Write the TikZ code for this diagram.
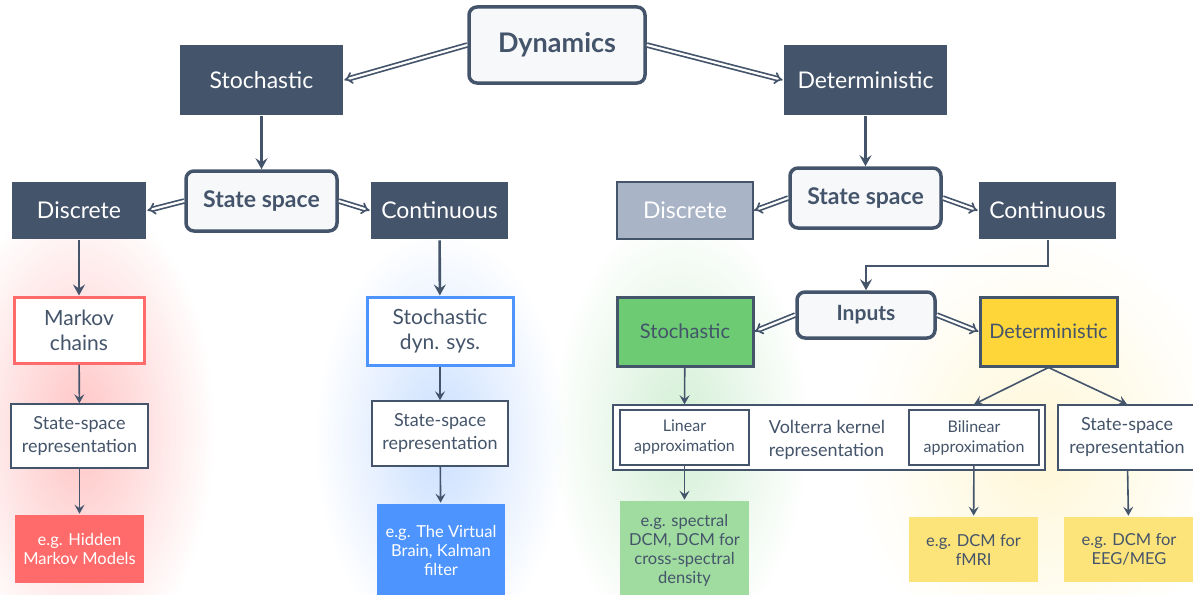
\documentclass[tikz,border=0pt]{standalone}
\usepackage{fontspec}
\setmainfont{Lato}
\usetikzlibrary{arrows.meta,fadings}
\definecolor{slate}{HTML}{44546A}
\definecolor{greyblue}{HTML}{A9B4C6}
\definecolor{paper}{HTML}{F7F8FA}
\definecolor{redbox}{HTML}{FF6B6B}
\definecolor{bluebox}{HTML}{4D94FF}
\definecolor{greenbox}{HTML}{6CCB73}
\definecolor{lightgreen}{HTML}{A0DCA0}
\definecolor{yellowbox}{HTML}{FFD63A}
\definecolor{lightyellow}{HTML}{FDE47A}
\tikzfading[name=glowfade, inner color=transparent!0, outer color=transparent!100]

\begin{document}
\begin{tikzpicture}[x=1pt,y=-1pt,->,>={Stealth[length=11pt,width=12pt,inset=4pt]},draw=slate,line width=2.6pt]
    \tikzstyle{dark}=[rectangle,fill=slate,text=white,font=\fontsize{23}{27}\selectfont,minimum width=137,minimum height=57]
    \tikzstyle{soft}=[rectangle,rounded corners=8pt,draw=slate,line width=3.5pt,fill=paper,text=slate,font=\bfseries\fontsize{23}{27}\selectfont]
    \tikzstyle{ring}=[rectangle,line width=3pt,fill=white,text=slate,align=center,font=\fontsize{21}{25}\selectfont]
    \tikzstyle{plain}=[rectangle,draw=slate,line width=1.4pt,fill=white,text=slate,align=center,font=\fontsize{18}{23}\selectfont]
    \tikzstyle{small}=[plain,font=\fontsize{16}{20}\selectfont,minimum width=129,minimum height=55]
    \tikzstyle{example}=[rectangle,align=center,font=\fontsize{16.5}{19}\selectfont,minimum width=129]
    \tikzstyle{input kind}=[dark,text=slate,draw=slate,line width=3pt,font=\fontsize{20}{24}\selectfont,minimum height=69]
    \tikzstyle{dbl}=[double=white,double distance=2.2pt,line width=1.7pt,-{Implies}]
    \tikzstyle{thin}=[line width=1.6pt,>={Stealth[length=9pt,width=10pt,inset=3.5pt]}]

\useasboundingbox (0,0) rectangle (1193,594);

% glows
\fill[redbox!40,path fading=glowfade] (80,430) ellipse (135 and 240);
\fill[bluebox!30,path fading=glowfade] (440,440) ellipse (125 and 210);
\fill[greenbox!30,path fading=glowfade] (680,430) ellipse (130 and 220);
\fill[yellowbox!20,path fading=glowfade] (1040,450) ellipse (190 and 220);

% top levels
\node[soft,font=\bfseries\fontsize{27}{31}\selectfont,minimum width=176,minimum height=76] (dyn) at (557,45) {Dynamics};
\node[dark,minimum width=163,minimum height=70] (stoch) at (261.5,80) {Stochastic};
\node[dark,minimum width=163,minimum height=70] (det) at (865.5,80) {Deterministic};
\node[soft,minimum width=151,minimum height=60] (ssl) at (261.5,201) {State space};
\node[soft,minimum width=151,minimum height=60] (ssr) at (865.5,198) {State space};
\node[dark,minimum width=134] (discl) at (79,210.5) {Discrete};
\node[dark] (contl) at (439.5,210.5) {Continuous};
\node[dark,fill=greyblue,draw=slate,line width=2pt,minimum width=136] (discr) at (685,210.5) {Discrete};
\node[dark] (contr) at (1047.5,210.5) {Continuous};

\draw[dbl] (dyn.west) -- (stoch.east);
\draw[dbl] (dyn.east) -- (det.west);
\draw (stoch) -- (ssl);
\draw (det) -- (ssr);
\draw[dbl] (ssl.west) -- (discl.east);
\draw[dbl] (ssl.east) -- (contl.west);
\draw[dbl] (ssr.west) -- (discr.east);
\draw[dbl] (ssr.east) -- (contr.west);

% stochastic branch
\node[ring,draw=redbox,minimum width=130,minimum height=66] (markov) at (79,330) {Markov\\chains};
\node[plain,minimum width=137,minimum height=64] (repa) at (79.5,436) {State-space\\representation};
\node[example,fill=redbox,text=white,minimum height=68] (hmm) at (79.5,549) {e.g. Hidden\\Markov Models};
\node[ring,draw=bluebox,minimum width=146,minimum height=68] (sds) at (440,331) {Stochastic\\dyn. sys.};
\node[plain,minimum width=136,minimum height=65] (repb) at (440,433.5) {State-space\\representation};
\node[example,fill=bluebox,text=white,minimum width=128,minimum height=92] (tvb) at (441,550) {e.g. The Virtual\\Brain, Kalman\\filter};

\draw (discl) -- (markov);
\draw[thin] (markov) -- (repa);
\draw[thin] (repa) -- (hmm);
\draw (contl) -- (sds);
\draw[thin] (sds) -- (repb);
\draw[thin] (repb) -- (tvb);

% deterministic branch
\node[soft,font=\bfseries\fontsize{21}{25}\selectfont,minimum width=138,minimum height=46] (inputs) at (866,315) {Inputs};
\node[input kind,fill=greenbox,minimum width=136] (noise) at (685,331.5) {Stochastic};
\node[input kind,fill=yellowbox,minimum width=137] (drive) at (1048.5,331.5) {Deterministic};
\node[plain,minimum width=432,minimum height=65] (volt) at (829,437.5) {};
\node[plain,draw=none,fill=none,align=left] (kernel) at (827,440) {Volterra kernel\\representation};
\node[small] (lin) at (684.5,437.5) {Linear\\approximation};
\node[small,minimum width=130] (bilin) at (974,437.5) {Bilinear\\approximation};
\node[plain,minimum width=138,minimum height=65] (repc) at (1127,437.5) {State-space\\representation};
\node[example,fill=lightgreen,text=slate,minimum height=98] (spec) at (684.5,550) {e.g. spectral\\DCM, DCM for\\cross-spectral\\density};
\node[example,fill=lightyellow,text=slate,minimum height=65] (fmri) at (973.5,549.5) {e.g. DCM for\\fMRI};
\node[example,fill=lightyellow,text=slate,minimum width=130,minimum height=65] (eeg) at (1129,549.5) {e.g. DCM for\\EEG/MEG};

\draw[line width=2pt] (contr.south) -- ++(0,26) -| (inputs.north);
\draw[dbl] (inputs.west) -- (noise.east);
\draw[dbl] (inputs.east) -- (drive.west);
\draw[thin] (noise) -- (lin.north |- volt.north);
\draw[thin] (drive.south) -- (bilin.north |- volt.north);
\draw[thin] (drive.south) -- (repc.north);
\draw[thin] (lin) -- (spec);
\draw[thin] (bilin) -- (fmri);
\draw[thin] (repc) -- (eeg);
\end{tikzpicture}
\end{document}
